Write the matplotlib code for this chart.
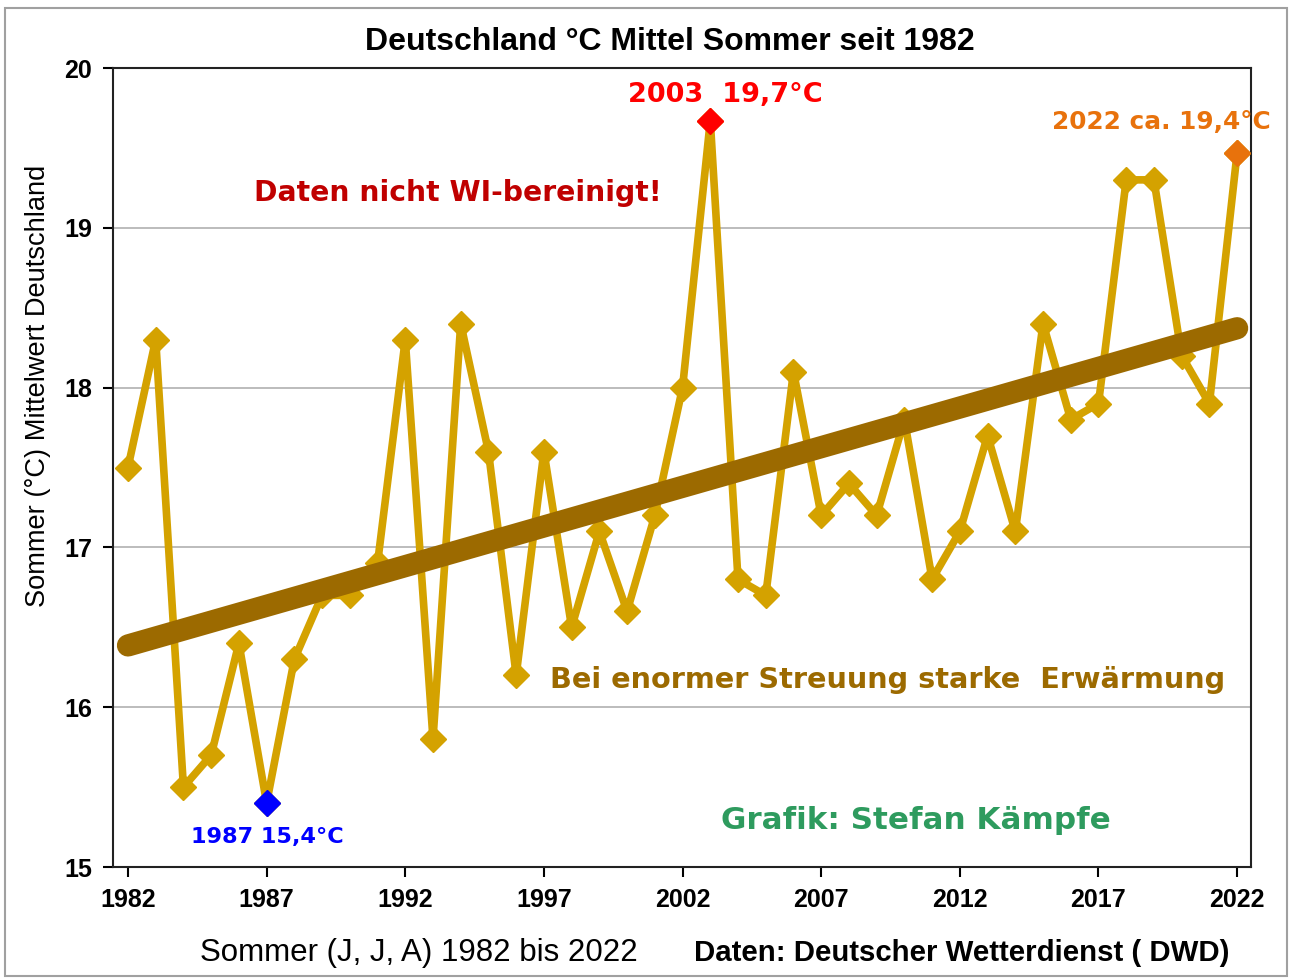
import numpy as np
import matplotlib
matplotlib.use("Agg")
import matplotlib.pyplot as plt
from matplotlib.patches import Rectangle

years = list(range(1982, 2023))
temps = [17.5, 18.3, 15.5, 15.7, 16.4, 15.4, 16.3, 16.7, 16.7, 16.9,
         18.3, 15.8, 18.4, 17.6, 16.2, 17.6, 16.5, 17.1, 16.6, 17.2,
         18.0, 19.67, 16.8, 16.7, 18.1, 17.2, 17.4, 17.2, 17.8, 16.8,
         17.1, 17.7, 17.1, 18.4, 17.8, 17.9, 19.3, 19.3, 18.2, 17.9,
         19.47]
x_ticks = [1982, 1987, 1992, 1997, 2002, 2007, 2012, 2017, 2022]
y_ticks = [15, 16, 17, 18, 19, 20]
highlight_years = [1987, 2003, 2022]
highlight_colors = ["#0000FF", "#FF0000", "#E8720C"]

plt.rcParams['font.family'] = ['Liberation Sans', 'DejaVu Sans']

fig = plt.figure(figsize=(12.9, 9.8), dpi=100)
fig.patches.append(Rectangle((0.004, 0.004), 0.994, 0.988, transform=fig.transFigure,
                             fill=False, edgecolor="#A0A0A0", linewidth=1.5))
ax = fig.add_axes([113/1290, 1-867/980, (1251-113)/1290, (867-68)/980])

x = np.array(years)
y = np.array(temps)
ax.plot(x, y, color="#D4A200", lw=5.5, marker="D", markersize=13, zorder=3)

coef = np.polyfit(x, y, 1)
tx = np.array([years[0], years[-1]])
ax.plot(tx, np.polyval(coef, tx), color="#9C6A00", lw=16, solid_capstyle="round", zorder=4)

for yr, c in zip(highlight_years, highlight_colors):
    i = years.index(yr)
    ax.plot([yr], [temps[i]], marker="D", markersize=13, color=c, zorder=6, lw=0)

ax.set_xlim(1981.46, 2022.5)
ax.set_ylim(15, 20)
ax.set_xticks(x_ticks)
ax.set_yticks(y_ticks)
ax.tick_params(axis="both", labelsize=18, length=7, width=1.5, direction="out", pad=8)
for lab in ax.get_xticklabels() + ax.get_yticklabels():
    lab.set_fontweight("bold")
ax.grid(axis="y", color="#B0B0B0", lw=1.2)
ax.set_axisbelow(True)
for s in ax.spines.values():
    s.set_linewidth(1.5)
    s.set_color("#222222")

fig.text(670/1290, 1-42/980, "Deutschland °C Mittel Sommer seit 1982", fontsize=23, fontweight="bold",
         ha="center", va="center")
fig.text(38/1290, 1-386/980, "Sommer (°C) Mittelwert Deutschland", fontsize=19.6, rotation=90,
         ha="center", va="center")

fig.text(419/1290, 1-953/980, "Sommer (J, J, A) 1982 bis 2022", fontsize=22.5, ha="center", va="center")
fig.text(962/1290, 1-953/980, "Daten: Deutscher Wetterdienst ( DWD)", fontsize=21.2, fontweight="bold",
         ha="center", va="center")

def ftext(px, py, s, color, size):
    fig.text(px/1290, 1-py/980, s, color=color, fontsize=size, fontweight="bold", ha="center", va="center",
             family="DejaVu Sans")

ftext(725, 95, "2003  19,7°C", "#FF0000", 19.5)
ftext(1161, 122, "2022 ca. 19,4°C", "#E8720C", 17.8)
ftext(267, 837, "1987 15,4°C", "#0000FF", 16.1)
ftext(458, 193, "Daten nicht WI-bereinigt!", "#C00000", 20.3)
ftext(888, 680, "Bei enormer Streuung starke  Erwärmung", "#9C6A00", 20.7)
ftext(916, 820, "Grafik: Stefan Kämpfe", "#2E9B5E", 22.3)

fig.savefig("out.png", dpi=100)
